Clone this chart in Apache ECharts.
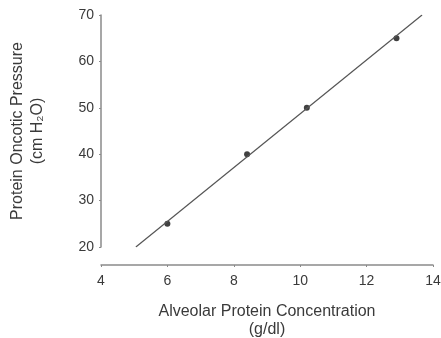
<!DOCTYPE html>
<html>
<head>
<meta charset="utf-8">
<script src="https://cdn.jsdelivr.net/npm/echarts@6/dist/echarts.min.js"></script>
<style>
  html, body { margin: 0; padding: 0; background: #fff; }
  #chart { width: 441px; height: 338px; }
</style>
</head>
<body>
<div id="chart"></div>
<script>
// measured points
const concentration = [6.0, 8.4, 10.2, 12.9];
const pressure = [25, 40, 50, 65];

// fitted line end points
const fitX = [5.05, 13.67];
const fitY = [20, 70];

const xTicks = [4, 6, 8, 10, 12, 14];
const yTicks = [20, 30, 40, 50, 60, 70];

const chart = echarts.init(document.getElementById("chart"));

const axisGray = "#8a8a8a";
const labelColor = "#3a3a3a";
const font = "Liberation Sans, Arial, sans-serif";

chart.setOption({
  animation: false,
  grid: { left: 101, right: 8, top: 15, bottom: 91, outerBoundsMode: "none", containLabel: false },
  xAxis: {
    type: "value",
    min: xTicks[0],
    max: xTicks[xTicks.length - 1],
    interval: 2,
    offset: 18,
    splitLine: { show: false },
    axisLine: { lineStyle: { color: axisGray, width: 1.5 } },
    axisTick: { length: 2, lineStyle: { color: axisGray } },
    axisLabel: { color: labelColor, fontSize: 14, fontFamily: font, margin: 9 },
    name: "Alveolar Protein Concentration\n(g/dl)",
    nameLocation: "middle",
    nameGap: 38,
    nameTextStyle: { color: labelColor, fontSize: 16, fontFamily: font, lineHeight: 18 }
  },
  yAxis: {
    type: "value",
    min: yTicks[0],
    max: yTicks[yTicks.length - 1],
    interval: 10,
    splitLine: { show: false },
    axisLine: { show: true, lineStyle: { color: axisGray, width: 1.5 } },
    axisTick: { show: true, length: 2, lineStyle: { color: axisGray } },
    axisLabel: { color: labelColor, fontSize: 14, fontFamily: font, margin: 7 },
    name: "Protein Oncotic Pressure\n(cm H₂O)",
    nameLocation: "middle",
    nameGap: 53,
    nameRotate: 90,
    nameTextStyle: { color: labelColor, fontSize: 16, fontFamily: font, lineHeight: 20 }
  },
  series: [
    {
      type: "line",
      data: fitX.map((x, i) => [x, fitY[i]]),
      symbol: "none",
      lineStyle: { color: "#555", width: 1.2 },
      silent: true
    },
    {
      type: "scatter",
      data: concentration.map((x, i) => [x, pressure[i]]),
      symbolSize: 6,
      itemStyle: { color: "#111" }
    }
  ]
});
</script>
</body>
</html>
